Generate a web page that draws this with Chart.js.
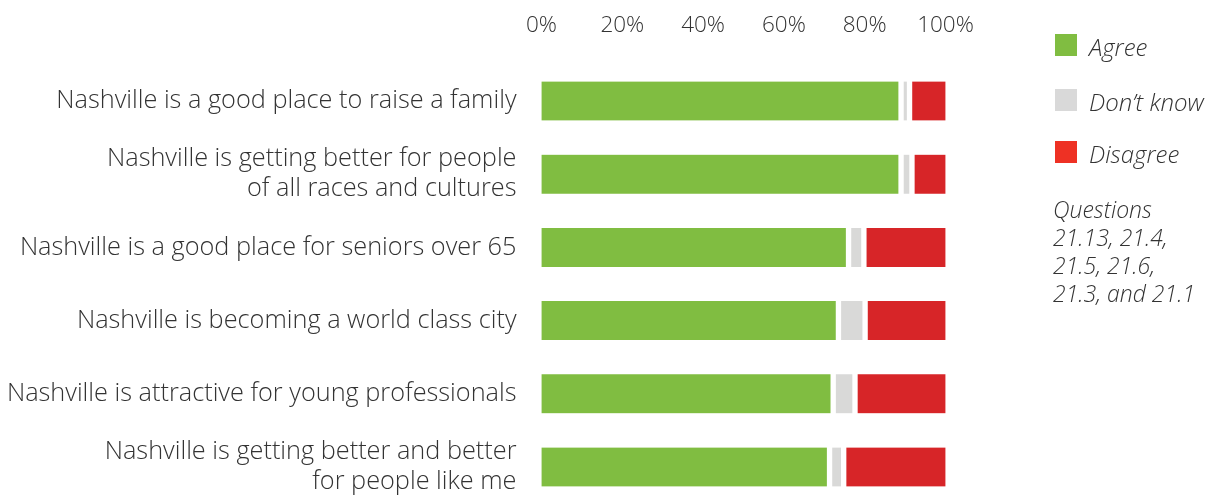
<!DOCTYPE html>
<html>
<head>
<meta charset="utf-8">
<script src="https://cdn.jsdelivr.net/npm/chart.js@4.4.1/dist/chart.umd.min.js"></script>
<style>
  html, body { margin: 0; padding: 0; background: #fff; }
  #wrap { position: relative; width: 1210px; height: 499px; }
  #legend { position: absolute; left: 1055px; top: 0; font-family: "Open Sans", sans-serif; font-weight: 300; font-style: italic; font-size: 23px; color: #333; }
  .item { position: absolute; left: 0; white-space: nowrap; }
  .box { position: absolute; left: 0; width: 22px; height: 22px; }
  .lbl { position: absolute; left: 34px; top: 0px; line-height: 26px; font-size: 24px; }
  #note { position: absolute; left: -2px; top: 195px; line-height: 28px; white-space: nowrap; }
</style>
</head>
<body>
<div id="wrap">
  <canvas id="chart" width="1210" height="499"></canvas>
  <div id="legend"></div>
</div>
<script>
const categories = [
  'Nashville is a good place to raise a family',
  ['Nashville is getting better for people', 'of all races and cultures'],
  'Nashville is a good place for seniors over 65',
  'Nashville is becoming a world class city',
  'Nashville is attractive for young professionals',
  ['Nashville is getting better and better', 'for people like me']
];
const agree    = [89, 89, 76, 73.5, 72.2, 71.3];
const dontKnow = [2.1, 2.7, 3.8, 6.6, 5.4, 3.5];
const disagree = [8.9, 8.3, 20.2, 19.9, 22.4, 25.2];
const xTicks = [0, 20, 40, 60, 80, 100];
const noteLines = ['Questions', '21.13, 21.4,', '21.5, 21.6,', '21.3, and 21.1'];

const legendItems = [
  { text: 'Agree', color: '#80bd41', top: 34 },
  { text: 'Don\u2019t know', color: '#d9d9d9', top: 89 },
  { text: 'Disagree', color: '#ee3124', top: 141 }
];

const legend = document.getElementById('legend');
legendItems.forEach(it => {
  const d = document.createElement('div');
  d.className = 'item';
  d.style.top = it.top + 'px';
  d.innerHTML = `<div class="box" style="background:${it.color}"></div><div class="lbl">${it.text}</div>`;
  legend.appendChild(d);
});
const note = document.createElement('div');
note.id = 'note';
note.innerHTML = noteLines.join('<br>');
legend.appendChild(note);

const font = 'Open Sans';
const ctx = document.getElementById('chart').getContext('2d');
new Chart(ctx, {
  type: 'bar',
  data: {
    labels: categories,
    datasets: [
      { label: 'Agree', data: agree, backgroundColor: '#80bd41', borderColor: '#fff',
        borderWidth: { left: 0, right: 3, top: 0, bottom: 0 }, borderSkipped: false, clip: false },
      { label: 'Don\u2019t know', data: dontKnow, backgroundColor: '#d9d9d8', borderColor: '#fff',
        borderWidth: { left: 3, right: 3, top: 0, bottom: 0 }, borderSkipped: false, clip: false },
      { label: 'Disagree', data: disagree, backgroundColor: '#d72528', borderColor: '#fff',
        borderWidth: { left: 3, right: 0, top: 0, bottom: 0 }, borderSkipped: false, clip: false }
    ]
  },
  options: {
    indexAxis: 'y',
    responsive: false,
    animation: false,
    barThickness: 39,
    layout: { padding: { left: 0, right: 264.5, top: 0, bottom: 32 } },
    plugins: { legend: { display: false }, tooltip: { enabled: false } },
    scales: {
      x: {
        position: 'top',
        stacked: true,
        min: 0, max: 100,
        afterBuildTicks: s => { s.ticks = xTicks.map(v => ({ value: v })); },
        afterFit: s => { s.height = 101; },
        ticks: { callback: v => v + '%', color: '#333', padding: 62,
                 font: { family: font, size: 22.5, weight: 300 } },
        grid: { display: false, drawTicks: false },
        border: { display: false }
      },
      y: {
        stacked: true,
        offset: false,
        afterFit: s => { s.width = 541.5; s.paddingTop = 0; s.paddingBottom = 0; },
        ticks: { color: '#333', padding: 25, autoSkip: false,
                 font: { family: font, size: 25.3, weight: 300, lineHeight: 1.19 } },
        grid: { display: false, drawTicks: false },
        border: { display: false }
      }
    }
  }
});
</script>
</body>
</html>
